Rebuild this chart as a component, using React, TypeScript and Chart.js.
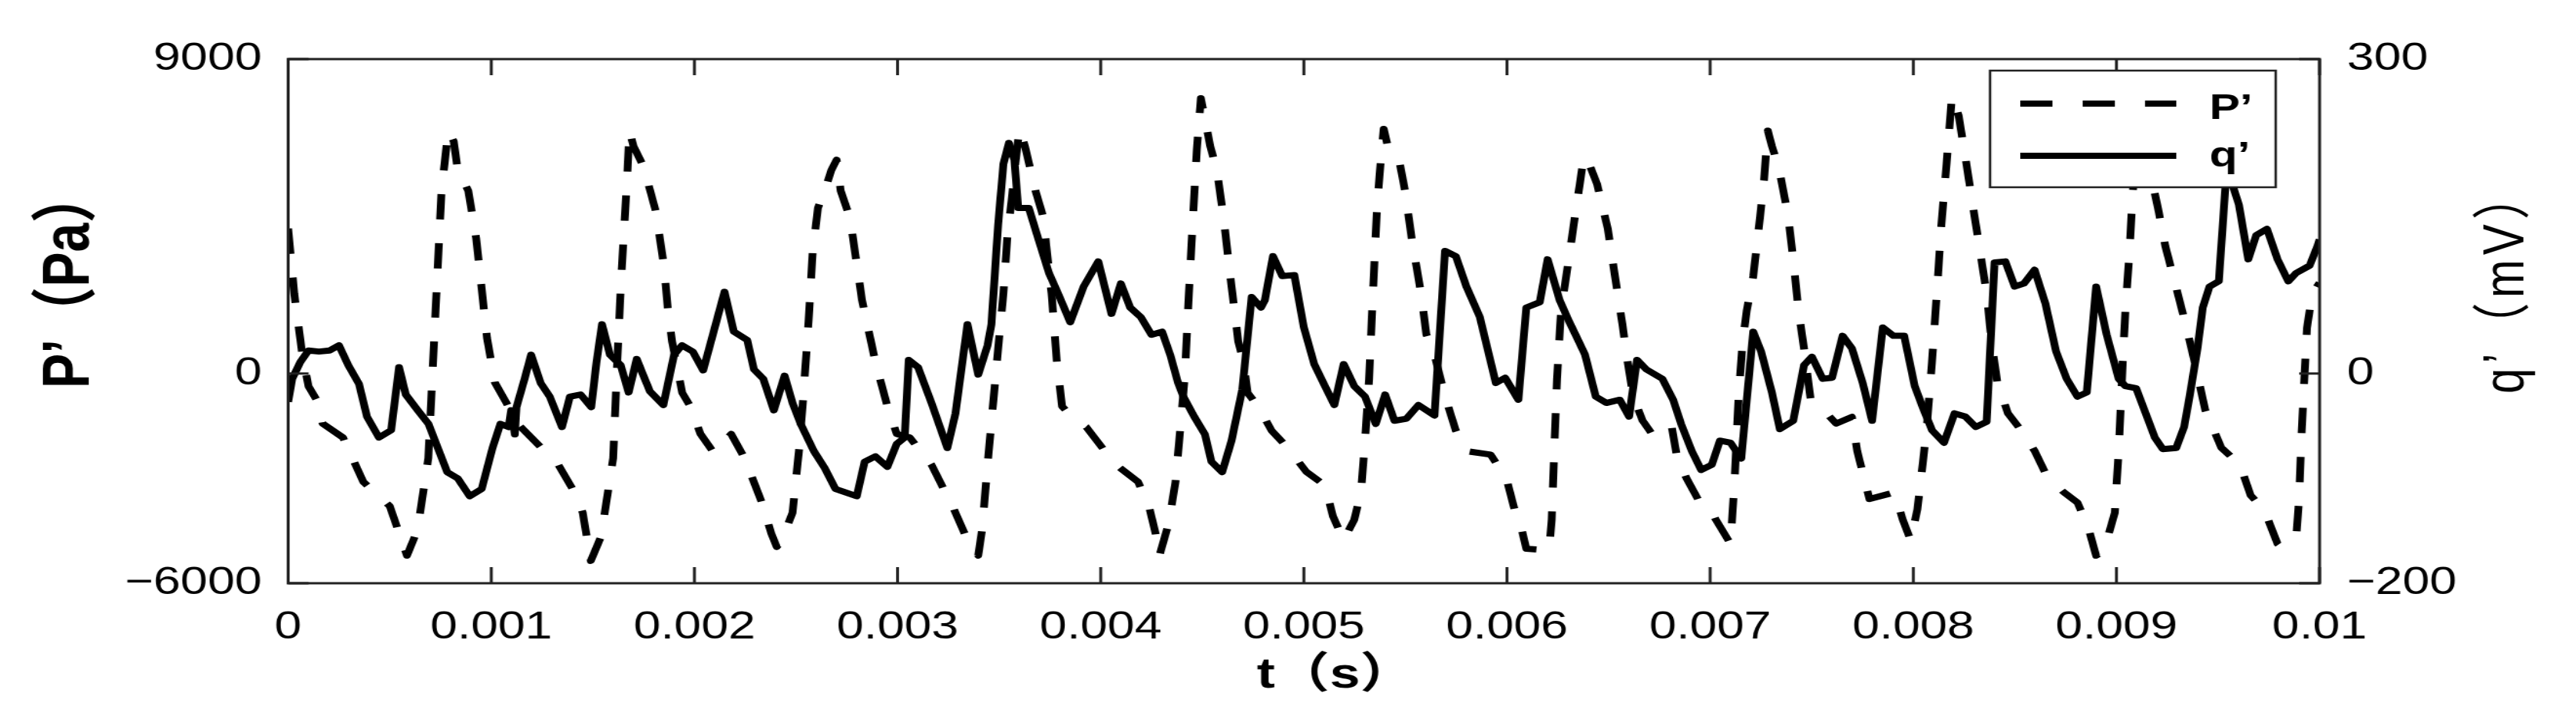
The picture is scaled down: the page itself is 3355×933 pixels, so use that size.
import React, { useEffect, useRef } from "react";
import { Chart, registerables } from "chart.js";

Chart.register(...registerables);

// ---------- data ----------
// P' (Pa): time in ms, value in Pa
const pTimeMs = [
  0, 0.03, 0.07, 0.1, 0.14, 0.17, 0.27, 0.37, 0.5, 0.585, 0.637, 0.69, 0.72, 0.755, 0.788, 0.815, 0.835, 0.887, 0.926, 0.979,
  1.018, 1.137, 1.33, 1.41, 1.45, 1.49, 1.54, 1.6, 1.62, 1.64, 1.67, 1.68, 1.7, 1.75, 1.81, 1.85, 1.87, 1.89, 1.94, 1.98,
  2.03, 2.096, 2.181, 2.247, 2.332, 2.378, 2.405, 2.43, 2.483, 2.516, 2.536, 2.562, 2.582, 2.608, 2.641, 2.674, 2.7, 2.72, 2.766, 2.825,
  2.891, 2.95, 2.996, 3.06, 3.167, 3.278, 3.337, 3.397, 3.416, 3.443, 3.469, 3.495, 3.521, 3.541, 3.561, 3.58, 3.6, 3.627, 3.679, 3.719,
  3.732, 3.758, 3.784, 3.81, 3.876, 3.929, 4.034, 4.086, 4.184, 4.237, 4.27, 4.289, 4.335, 4.368, 4.394, 4.414, 4.434, 4.454, 4.473, 4.493,
  4.513, 4.539, 4.572, 4.605, 4.644, 4.677, 4.703, 4.723, 4.775, 4.841, 4.92, 5.012, 5.104, 5.143, 5.196, 5.248, 5.281, 5.301, 5.321, 5.34,
  5.36, 5.38, 5.393, 5.413, 5.472, 5.498, 5.531, 5.577, 5.603, 5.643, 5.695, 5.748, 5.8, 5.919, 5.997, 6.037, 6.069, 6.095, 6.207, 6.22,
  6.233, 6.246, 6.266, 6.299, 6.338, 6.371, 6.384, 6.41, 6.443, 6.496, 6.529, 6.568, 6.594, 6.621, 6.667, 6.726, 6.811, 6.838, 6.884, 6.949,
  7.002, 7.028, 7.1, 7.12, 7.14, 7.16, 7.18, 7.212, 7.245, 7.265, 7.284, 7.304, 7.337, 7.383, 7.409, 7.435, 7.462, 7.475, 7.495, 7.541,
  7.62, 7.698, 7.724, 7.784, 7.908, 7.948, 7.987, 8.02, 8.04, 8.065, 8.092, 8.118, 8.138, 8.164, 8.19, 8.223, 8.256, 8.295, 8.335, 8.361,
  8.387, 8.414, 8.466, 8.532, 8.598, 8.663, 8.742, 8.808, 8.86, 8.9, 8.939, 8.992, 9.012, 9.031, 9.044, 9.064, 9.077, 9.095, 9.115, 9.15,
  9.208, 9.24, 9.293, 9.345, 9.385, 9.437, 9.516, 9.608, 9.661, 9.727, 9.793, 9.81, 9.886, 9.899, 9.912, 9.925, 9.938, 9.964, 10,
];
const pValue = [
  4150, 2290, 530, -360, -750, -1430, -1830, -3100, -3790, -5210, -4470, -2420, 1120, 5230, 6950, 6650, 5820, 5230, 3860, 1020,
  -260, -1480, -2610, -3400, -3980, -5360, -4670, -2420, 330, 2780, 5720, 6950, 6510, 5920, 4640, 3080, 1800, 920, -550, -940,
  -1730, -2270, -1730, -2420, -3690, -4570, -4960, -4770, -3980, -2120, -650, 1510, 3470, 4740, 5230, 5820, 6120, 5230, 4450, 2100,
  330, -940, -1730, -1830, -2610, -3890, -4670, -5210, -4470, -2610, -940, 720, 2290, 3960, 4940, 6020, 7000, 6510, 5230, 4450,
  3660, 2290, 330, -940, -1340, -1530, -2320, -2660, -3100, -3790, -4570, -5210, -4280, -3100, -1430, -60, 2290, 4450, 6410, 7880,
  7290, 6510, 5820, 4450, 2490, 920, 330, -550, -940, -1630, -2120, -2810, -3200, -4080, -4770, -4180, -3400, -1920, -160, 2290,
  4740, 6210, 7000, 6510, 6020, 5230, 3860, 2290, 1120, 530, -650, -1630, -2220, -2320, -3000, -3890, -4380, -5010, -5060, -4180,
  -2120, -160, 1800, 3080, 4640, 5920, 6210, 5920, 5430, 4150, 2880, 1410, 330, -650, -1340, -1830, -1530, -2420, -3000, -3690,
  -3890, -4180, -4870, -3100, -650, 920, 1800, 2780, 4450, 5530, 6950, 6510, 5920, 4550, 3270, 1800, 720, 130, -750, -940,
  -1430, -1240, -2220, -3590, -3400, -4180, -4770, -3890, -2900, -1630, 330, 2490, 4250, 6020, 7930, 7390, 6210, 4740, 3270, 2290,
  820, -260, -1140, -1630, -2220, -3000, -3400, -3690, -4380, -5210, -5060, -3980, -2120, 330, 1800, 3470, 4840, 6500, 7300, 6200,
  4640, 3660, 2490, 1310, 330, -1040, -2120, -2610, -3490, -3890, -4870, -4960, -4620, -3590, -1630, -160, 1310, 2290, 2600,
];

// q' (mV): time in ms, value in mV
const qTimeMs = [
  0, 0.02, 0.06, 0.1, 0.152, 0.204, 0.25, 0.296, 0.349, 0.388, 0.447, 0.507, 0.546, 0.579, 0.638, 0.691, 0.743, 0.783, 0.835, 0.894,
  0.953, 0.98, 1.006, 1.045, 1.085, 1.098, 1.116, 1.124, 1.164, 1.196, 1.243, 1.288, 1.348, 1.387, 1.44, 1.492, 1.518, 1.545, 1.584, 1.637,
  1.676, 1.716, 1.749, 1.781, 1.847, 1.9, 1.939, 1.992, 2.043, 2.148, 2.194, 2.26, 2.293, 2.339, 2.391, 2.444, 2.483, 2.523, 2.588, 2.641,
  2.694, 2.799, 2.838, 2.891, 2.95, 2.996, 3.035, 3.055, 3.101, 3.167, 3.245, 3.285, 3.344, 3.397, 3.443, 3.462, 3.495, 3.521, 3.548, 3.575,
  3.594, 3.646, 3.692, 3.745, 3.791, 3.85, 3.916, 3.988, 4.053, 4.099, 4.145, 4.197, 4.25, 4.302, 4.342, 4.381, 4.407, 4.46, 4.513, 4.545,
  4.598, 4.644, 4.697, 4.743, 4.789, 4.808, 4.848, 4.894, 4.953, 5, 5.051, 5.104, 5.15, 5.196, 5.248, 5.301, 5.354, 5.4, 5.446, 5.505,
  5.564, 5.643, 5.695, 5.748, 5.8, 5.866, 5.945, 5.991, 6.056, 6.095, 6.161, 6.2, 6.259, 6.305, 6.345, 6.384, 6.437, 6.489, 6.555, 6.601,
  6.64, 6.686, 6.765, 6.818, 6.857, 6.91, 6.956, 7.008, 7.048, 7.1, 7.153, 7.212, 7.251, 7.304, 7.343, 7.409, 7.462, 7.501, 7.554, 7.6,
  7.652, 7.698, 7.751, 7.797, 7.85, 7.902, 7.955, 8.007, 8.046, 8.092, 8.151, 8.203, 8.256, 8.308, 8.361, 8.4, 8.453, 8.499, 8.545, 8.597,
  8.65, 8.703, 8.755, 8.808, 8.854, 8.9, 8.952, 9.011, 9.044, 9.097, 9.15, 9.189, 9.228, 9.294, 9.333, 9.36, 9.399, 9.425, 9.458, 9.504,
  9.537, 9.563, 9.603, 9.649, 9.688, 9.741, 9.793, 9.846, 9.885, 9.951, 9.99, 10,
];
const qValue = [
  -27, -5, 11, 22, 21, 22, 27, 8, -10, -41, -61, -54, 6, -20, -35, -48, -74, -94, -100, -117,
  -110, -90, -71, -48, -51, -35, -58, -32, -5, 18, -9, -22, -51, -22, -20, -32, 11, 47, 18, 8,
  -18, 14, -2, -17, -30, 18, 27, 21, 3, 78, 40, 32, 4, -5, -35, -2, -28, -48, -74, -90,
  -110, -117, -84, -79, -89, -67, -61, 13, 6, -28, -71, -38, 47, -1, 27, 47, 142, 200, 220, 204,
  158, 158, 129, 96, 76, 49, 83, 107, 57, 86, 63, 54, 37, 40, 18, -9, -22, -41, -58, -84,
  -94, -64, -15, 73, 63, 70, 112, 93, 94, 44, 9, -12, -30, 9, -12, -22, -48, -20, -45, -43,
  -30, -40, 117, 112, 83, 54, -9, -4, -25, 63, 68, 109, 70, 50, 34, 18, -22, -28, -25, -41,
  13, 4, -5, -25, -48, -74, -92, -87, -64, -66, -81, 40, 21, -18, -53, -45, 8, 16, -5, -4,
  36, 24, -9, -45, 44, 36, 36, -12, -32, -54, -66, -38, -41, -51, -46, 106, 107, 83, 86, 99,
  67, 21, -5, -22, -18, 83, 37, -5, -12, -14, -41, -61, -72, -71, -51, -22, 24, 63, 83, 88,
  180, 185, 161, 109, 132, 138, 109, 88, 96, 103, 122, 128,
];

// axes / ticks
const xTickValues = [0, 0.001, 0.002, 0.003, 0.004, 0.005, 0.006, 0.007, 0.008, 0.009, 0.01];
const xTickLabels = ["0", "0.001", "0.002", "0.003", "0.004", "0.005", "0.006", "0.007", "0.008", "0.009", "0.01"];
const leftTickValues = [-6000, 0, 9000];
const leftTickLabels = ["\u22126000", "0", "9000"];
const rightTickValues = [-200, 0, 300];
const rightTickLabels = ["\u2212200", "0", "300"];

const seriesLabels = ["P\u2019", "q\u2019"];
const xTitle = "t\uFF08s\uFF09";
const yTitle = "P\u2019\uFF08Pa\uFF09";
const y1Title = "q\u2019\uFF08mV\uFF09";

// ---------- layout constants ----------
const OUT_W = 3355;
const H = 933;
const W = 2642; // drawn width, stretched horizontally to OUT_W like the reference
const STRETCH = OUT_W / W;
const FONT = '"Liberation Sans", Arial, "Noto Sans CJK SC", sans-serif';
const AREA_LEFT = 295.5;
const AREA_RIGHT = 2379;
const AREA_TOP = 77;
const AREA_BOTTOM = 760;
const TICK_LEN = 21;
const LINE_W = 8;
const DASH = [33, 31];

const decorPlugin = {
  id: "decor",
  afterDraw(chart: any) {
    const { ctx, chartArea, scales } = chart;
    const { left, right, top, bottom } = chartArea;
    ctx.save();

    // inward tick marks
    ctx.strokeStyle = "#222";
    ctx.lineWidth = 3;
    ctx.setLineDash([]);
    ctx.beginPath();
    xTickValues.forEach((v) => {
      const x = scales.x.getPixelForValue(v);
      ctx.moveTo(x, bottom);
      ctx.lineTo(x, bottom - TICK_LEN);
      ctx.moveTo(x, top);
      ctx.lineTo(x, top + TICK_LEN);
    });
    leftTickValues.forEach((v) => {
      const y = scales.y.getPixelForValue(v);
      ctx.moveTo(left, y);
      ctx.lineTo(left + TICK_LEN, y);
    });
    rightTickValues.forEach((v) => {
      const y = scales.y1.getPixelForValue(v);
      ctx.moveTo(right, y);
      ctx.lineTo(right - TICK_LEN, y);
    });
    ctx.stroke();

    // frame
    ctx.strokeRect(left, top, right - left, bottom - top);

    // legend box
    const bx = 2041, by = 92, bw = 293, bh = 152;
    ctx.fillStyle = "#fff";
    ctx.fillRect(bx, by, bw, bh);
    ctx.lineWidth = 2.5;
    ctx.strokeStyle = "#222";
    ctx.strokeRect(bx, by, bw, bh);
    const rows = [135, 203];
    const baselines = [155, 217];
    chart.data.datasets.forEach((ds: any, i: number) => {
      ctx.save();
      ctx.strokeStyle = ds.borderColor;
      ctx.lineWidth = ds.borderWidth;
      ctx.setLineDash(ds.borderDash || []);
      ctx.beginPath();
      ctx.moveTo(2072, rows[i]);
      ctx.lineTo(2232, rows[i]);
      ctx.stroke();
      ctx.restore();
      ctx.fillStyle = "#000";
      ctx.font = `bold 47px ${FONT}`;
      ctx.textAlign = "left";
      ctx.textBaseline = "alphabetic";
      ctx.fillText(ds.label, 2266, baselines[i]);
    });

    // axis titles
    ctx.fillStyle = "#000";
    ctx.textBaseline = "alphabetic";
    ctx.textAlign = "left";
    ctx.font = `bold 56px ${FONT}`;
    ctx.fillText(xTitle, 1289, 896);

    ctx.save();
    ctx.translate(90.6, 506);
    ctx.rotate(-Math.PI / 2);
    ctx.font = `bold 68px ${FONT}`;
    ctx.fillText(yTitle, 0, 0);
    ctx.restore();

    ctx.save();
    ctx.translate(2588, 513);
    ctx.rotate(-Math.PI / 2);
    ctx.font = `60px ${FONT}`;
    (ctx as any).letterSpacing = "6px";
    ctx.fillText(y1Title, 0, 0);
    ctx.restore();

    ctx.restore();
  },
};

export default function App() {
  const ref = useRef<HTMLCanvasElement | null>(null);

  useEffect(() => {
    document.body.style.margin = "0";
    document.body.style.overflow = "hidden";
    const canvas = ref.current;
    if (!canvas) return;

    const tickFont = { family: FONT, size: 50, weight: "normal" as const };

    const chart = new Chart(canvas, {
      type: "line",
      data: {
        datasets: [
          {
            label: seriesLabels[0],
            data: pTimeMs.map((t, i) => ({ x: t / 1000, y: pValue[i] })),
            yAxisID: "y",
            borderColor: "#000",
            borderWidth: LINE_W,
            borderDash: DASH,
            borderJoinStyle: "round",
            pointRadius: 0,
            tension: 0,
            fill: false,
          },
          {
            label: seriesLabels[1],
            data: qTimeMs.map((t, i) => ({ x: t / 1000, y: qValue[i] })),
            yAxisID: "y1",
            borderColor: "#000",
            borderWidth: LINE_W,
            borderJoinStyle: "round",
            pointRadius: 0,
            tension: 0,
            fill: false,
          },
        ],
      },
      options: {
        responsive: false,
        animation: false,
        devicePixelRatio: 1,
        layout: { padding: { top: AREA_TOP, left: 0, right: 0, bottom: 0 } },
        plugins: { legend: { display: false }, tooltip: { enabled: false } },
        scales: {
          x: {
            type: "linear",
            min: 0,
            max: 0.01,
            grid: { display: false },
            border: { display: false },
            afterBuildTicks: (s: any) => {
              s.ticks = xTickValues.map((v) => ({ value: v }));
            },
            afterFit: (s: any) => {
              s.height = H - AREA_BOTTOM;
            },
            ticks: {
              autoSkip: false,
              maxRotation: 0,
              minRotation: 0,
              padding: 20,
              color: "#000",
              font: tickFont,
              callback: (_v: any, i: number) => xTickLabels[i],
            },
          },
          y: {
            type: "linear",
            position: "left",
            min: -6000,
            max: 9000,
            grid: { display: false },
            border: { display: false },
            afterBuildTicks: (s: any) => {
              s.ticks = leftTickValues.map((v) => ({ value: v }));
            },
            afterFit: (s: any) => {
              s.width = AREA_LEFT;
            },
            ticks: {
              autoSkip: false,
              padding: 19,
              color: "#000",
              font: tickFont,
              callback: (_v: any, i: number) => leftTickLabels[i],
            },
          },
          y1: {
            type: "linear",
            position: "right",
            min: -200,
            max: 300,
            grid: { display: false },
            border: { display: false },
            afterBuildTicks: (s: any) => {
              s.ticks = rightTickValues.map((v) => ({ value: v }));
            },
            afterFit: (s: any) => {
              s.width = W - AREA_RIGHT;
            },
            ticks: {
              autoSkip: false,
              padding: 20,
              color: "#000",
              font: tickFont,
              callback: (_v: any, i: number) => rightTickLabels[i],
            },
          },
        },
      } as any,
      plugins: [decorPlugin],
    });

    return () => chart.destroy();
  }, []);

  return (
    <div style={{ width: OUT_W, height: H, overflow: "hidden", background: "#fff" }}>
      <canvas
        ref={ref}
        width={W}
        height={H}
        style={{
          width: `${W}px`,
          height: `${H}px`,
          display: "block",
          transform: `scaleX(${STRETCH})`,
          transformOrigin: "0 0",
        }}
      />
    </div>
  );
}
